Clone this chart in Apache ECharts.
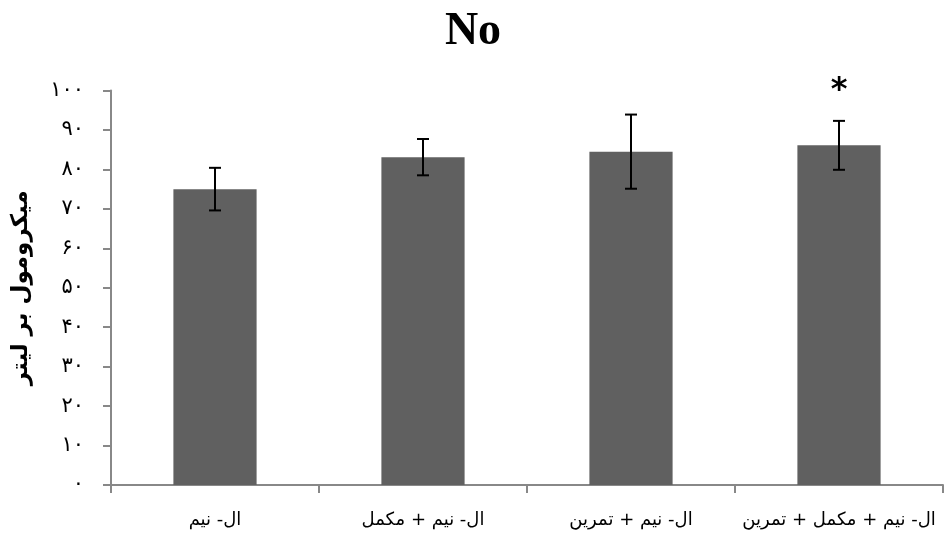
<!DOCTYPE html>
<html>
<head>
<meta charset="utf-8">
<script src="https://cdn.jsdelivr.net/npm/echarts@6/dist/echarts.min.js"></script>
<style>html,body{margin:0;padding:0;background:#fff}#c{width:946px;height:541px}</style>
</head>
<body>
<div id="c"></div>
<script>
var categories = ['ال- نیم', 'ال- نیم + مکمل', 'ال- نیم + تمرین', 'ال- نیم + مکمل + تمرین'];
var means = [75.0, 83.1, 84.5, 86.1];
var errors = [5.4, 4.6, 9.4, 6.2];
var significance = ['', '', '', '*'];
var yTickLabels = ['۰', '۱۰', '۲۰', '۳۰', '۴۰', '۵۰', '۶۰', '۷۰', '۸۰', '۹۰', '۱۰۰'];
var titleText = 'No';
var yAxisTitle = 'میکرومول بر لیتر';

var chart = echarts.init(document.getElementById('c'));
var errData = means.map(function (m, i) { return [i, m - errors[i], m + errors[i], significance[i]]; });

chart.setOption({
  animation: false,
  title: {
    text: titleText, left: 'center', top: 4,
    textStyle: { fontFamily: 'Liberation Serif', fontWeight: 'bold', fontSize: 46, color: '#000' }
  },
  grid: { left: 111, right: 3, top: 90.5, bottom: 56 },
  xAxis: {
    type: 'category', data: categories,
    axisLine: { lineStyle: { color: '#888', width: 2 } },
    axisTick: { show: true, length: 8, interval: 0, lineStyle: { color: '#888', width: 2 } },
    axisLabel: { interval: 0, color: '#000', fontFamily: 'DejaVu Sans', fontSize: 18, margin: 26 }
  },
  yAxis: {
    type: 'value', min: 0, max: 100, interval: 10,
    name: yAxisTitle, nameLocation: 'middle', nameGap: 78, nameRotate: 90,
    nameTextStyle: { fontFamily: 'DejaVu Sans', fontWeight: 'bold', fontSize: 23, color: '#000' },
    axisLine: { show: true, lineStyle: { color: '#888', width: 2 } },
    axisTick: { show: true, length: 8, lineStyle: { color: '#888', width: 2 } },
    splitLine: { show: false },
    axisLabel: {
      color: '#000', fontFamily: 'DejaVu Sans', fontSize: 21, margin: 27,
      formatter: function (v) { return yTickLabels[Math.round(v / 10)]; }
    }
  },
  series: [
    {
      type: 'bar', data: means, barWidth: '40%',
      itemStyle: { color: '#606060' }
    },
    {
      type: 'custom', z: 10,
      data: errData,
      renderItem: function (params, api) {
        var x = api.value(0);
        var lo = api.coord([x, api.value(1)]);
        var hi = api.coord([x, api.value(2)]);
        var hw = 6;
        var sig = significance[params.dataIndex];
        var children = [
          { type: 'line', shape: { x1: lo[0], y1: lo[1], x2: hi[0], y2: hi[1] }, style: { stroke: '#000', lineWidth: 2 } },
          { type: 'line', shape: { x1: lo[0] - hw, y1: lo[1], x2: lo[0] + hw, y2: lo[1] }, style: { stroke: '#000', lineWidth: 2 } },
          { type: 'line', shape: { x1: hi[0] - hw, y1: hi[1], x2: hi[0] + hw, y2: hi[1] }, style: { stroke: '#000', lineWidth: 2 } }
        ];
        if (sig) {
          children.push({
            type: 'text',
            style: { text: sig, x: hi[0], y: hi[1] - 14, textAlign: 'center', textVerticalAlign: 'bottom', fontSize: 32, fontFamily: 'DejaVu Sans', fontWeight: 'bold', fill: '#000' }
          });
        }
        return { type: 'group', children: children };
      }
    }
  ]
});
</script>
</body>
</html>
